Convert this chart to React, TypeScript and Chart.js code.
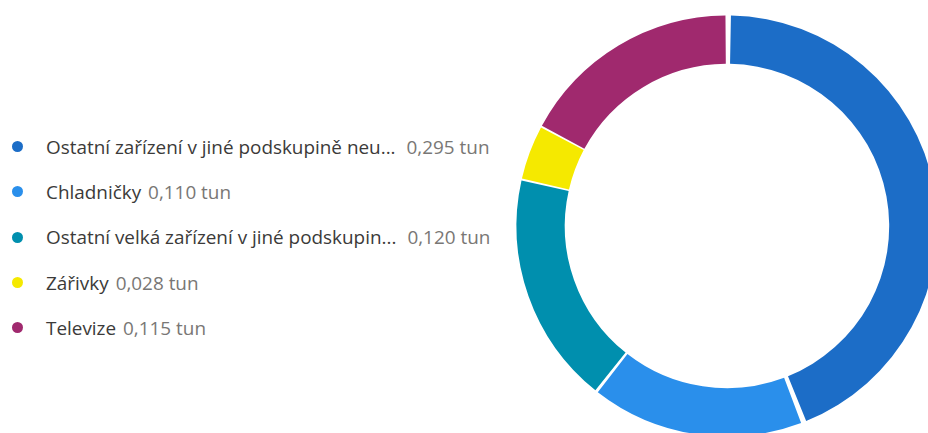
import React, { useEffect, useRef } from "react";
import { Chart, registerables } from "chart.js";

Chart.register(...registerables);

const labels = [
  "Ostatní zařízení v jiné podskupině neu...",
  "Chladničky",
  "Ostatní velká zařízení v jiné podskupin...",
  "Zářivky",
  "Televize",
];
const values = [0.295, 0.11, 0.12, 0.028, 0.115];
const valueLabels = ["0,295 tun", "0,110 tun", "0,120 tun", "0,028 tun", "0,115 tun"];
const colors = ["#1C6DC7", "#2A8FEB", "#008FAE", "#F5E900", "#A0296E"];

const FONT = '"Segoe UI", "Open Sans", sans-serif';

export default function App() {
  const ref = useRef<HTMLCanvasElement | null>(null);

  useEffect(() => {
    if (!ref.current) return;
    const chart = new Chart(ref.current, {
      type: "doughnut",
      data: {
        labels,
        datasets: [
          {
            data: values,
            backgroundColor: colors,
            borderWidth: 0,
            spacing: 5,
            hoverOffset: 0,
          },
        ],
      },
      options: {
        responsive: false,
        animation: false,
        radius: 208,
        cutout: 167,
        layout: { padding: 0 },
        plugins: {
          legend: { display: false },
          tooltip: { enabled: false },
        },
      },
    });
    return () => chart.destroy();
  }, []);

  return (
    <div
      style={{
        position: "fixed",
        left: 0,
        top: 0,
        width: 928,
        height: 433,
        overflow: "hidden",
        background: "#fff",
        fontFamily: FONT,
      }}
    >
      <div style={{ position: "absolute", left: 0, top: 124 }}>
        {labels.map((l, i) => (
          <div
            key={i}
            style={{
              height: 45.3,
              display: "flex",
              alignItems: "center",
              whiteSpace: "nowrap",
              fontSize: 18.9,
            }}
          >
            <span
              style={{
                display: "inline-block",
                width: 11,
                height: 11,
                borderRadius: "50%",
                background: colors[i],
                marginLeft: 12,
                marginRight: 23,
              }}
            />
            <span style={{ color: "#3b3a39", marginRight: l.endsWith("...") ? 4 : 0 }}>{l}</span>
            <span style={{ color: "#797775", marginLeft: 7 }}>{valueLabels[i]}</span>
          </div>
        ))}
      </div>
      <canvas
        ref={ref}
        width={440}
        height={440}
        style={{ position: "absolute", left: 507, top: 6, width: 440, height: 440 }}
      />
    </div>
  );
}
